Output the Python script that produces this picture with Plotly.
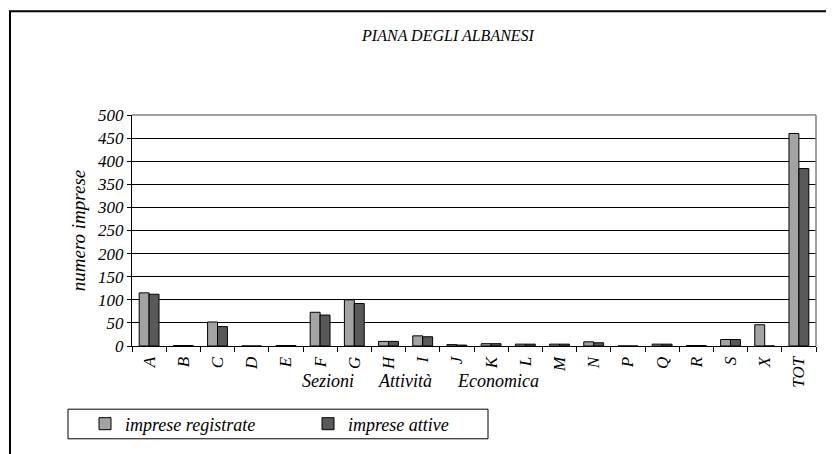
import plotly.graph_objects as go

categories = ["A", "B", "C", "D", "E", "F", "G", "H", "I", "J", "K", "L", "M", "N", "P", "Q", "R", "S", "X", "TOT"]
registrate = [115, 1, 52, 0, 1, 73, 100, 10, 22, 3, 5, 4, 4, 9, 0, 4, 1, 14, 46, 460]
attive = [112, 1, 42, 0, 1, 67, 92, 10, 20, 2, 5, 4, 4, 7, 0, 4, 1, 14, 0, 384]
y_ticks = [0, 50, 100, 150, 200, 250, 300, 350, 400, 450, 500]

# page has an 8px body margin; work in page pixel coordinates and shift
O = 8
W, H = 834 - O, 454 - O
L, R, T, B = 132 - O, 834 - 816, 115 - O, 454 - 349
pw, ph = W - L - R, H - T - B

def px(x):
    return (x - O - L) / pw

def py(y):
    return (H - B - (y - O)) / ph

FONT = "Liberation Serif"

fig = go.Figure()
fig.add_trace(go.Bar(x=categories, y=registrate, name="<i>imprese registrate</i>",
                     marker=dict(color="#a3a3a3", line=dict(color="black", width=1))))
fig.add_trace(go.Bar(x=categories, y=attive, name="<i>imprese attive</i>",
                     marker=dict(color="#595959", line=dict(color="black", width=1))))

fig.update_layout(
    width=W, height=H,
    margin=dict(l=L, r=R, t=T, b=B),
    paper_bgcolor="white", plot_bgcolor="white",
    barmode="group", bargap=0.42, bargroupgap=0,
    font=dict(family=FONT, size=13, color="black"),
    showlegend=True,
    legend=dict(orientation="h", x=px(85), y=py(428), xanchor="left", yanchor="middle",
                entrywidth=178, entrywidthmode="pixels",
                font=dict(family=FONT, size=18), bgcolor="rgba(0,0,0,0)"),
    title=dict(text="<i>PIANA DEGLI ALBANESI</i>", xref="container", x=(448 - O) / W, xanchor="center",
               yref="container", y=1 - (35 - O) / H, yanchor="middle", font=dict(family=FONT, size=16)),
)

fig.update_xaxes(
    type="category", tickangle=-90, tickfont=dict(family=FONT, size=17),
    ticks="outside", ticklen=5, tickcolor="black", tickson="boundaries",
    ticklabelstandoff=3,
    showline=True, linecolor="black", linewidth=1, showgrid=False,
    tickprefix="<i>", ticksuffix="</i>",
)
fig.update_yaxes(
    range=[0, 500], tickvals=y_ticks, ticktext=[f"<i>{v}</i>" for v in y_ticks],
    tickfont=dict(family=FONT, size=17),
    ticks="outside", ticklen=4, tickcolor="black",
    showline=True, linecolor="black", linewidth=1,
    showgrid=True, gridcolor="black", gridwidth=1, zeroline=False,
    title=dict(text="<i>numero imprese</i>", font=dict(family=FONT, size=19), standoff=6),
)

shapes = [
    dict(type="line", xref="paper", yref="paper", x0=0, x1=1, y0=1, y1=1,
         line=dict(color="#808080", width=1.5)),
    dict(type="line", xref="paper", yref="paper", x0=1, x1=1, y0=0, y1=1,
         line=dict(color="#808080", width=1.5)),
    dict(type="rect", xref="paper", yref="paper", x0=px(10), x1=px(850), y0=py(470), y1=py(10),
         line=dict(color="black", width=2), fillcolor="rgba(0,0,0,0)", layer="below"),
    dict(type="rect", xref="paper", yref="paper", x0=px(68), x1=px(488), y0=py(443), y1=py(413),
         line=dict(color="black", width=1), fillcolor="rgba(0,0,0,0)"),
]
fig.update_layout(shapes=shapes)

for text, xc in [("Sezioni", 328), ("Attività", 405), ("Economica", 498)]:
    fig.add_annotation(text=f"<i>{text}</i>", xref="paper", yref="paper", x=px(xc), y=py(384),
                       showarrow=False, font=dict(family=FONT, size=18), xanchor="center", yanchor="middle")

fig.write_html("out.html")
